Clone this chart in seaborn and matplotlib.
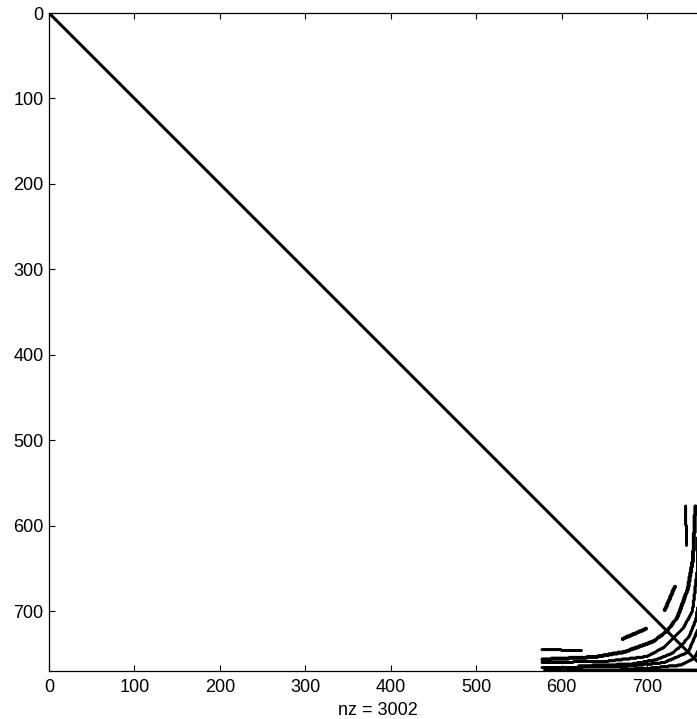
import numpy as np
import pandas as pd
import matplotlib
matplotlib.use("Agg")
import matplotlib.pyplot as plt
import seaborn as sns

# Matrix order and number of stored entries
n = 769
nz_label = "nz = 3002"

# Tick positions on both axes
tick_values = [0, 100, 200, 300, 400, 500, 600, 700]

# Coupling bands in the lower triangle, given as (column, row) vertices and
# a width in rows; the matrix is symmetric, so each band is mirrored above
# the diagonal.
band1a_cols = [577, 623]
band1a_rows = [745, 746]
band1b_cols = [671, 699]
band1b_rows = [732, 720]
band2_cols = [577, 640, 674, 707, 723]
band2_rows = [756, 753, 747, 735, 723]
band3_cols = [577, 650, 700, 720, 731]
band3_rows = [760, 759, 753, 742, 731]
band4_cols = [620, 680, 710, 730, 740]
band4_rows = [764, 762, 757, 749, 740]
band5_cols = [577, 672, 720, 748]
band5_rows = [766, 765, 760, 748]
band6_cols = [670, 700, 740, 755]
band6_rows = [768, 767, 763, 755]
band_widths = [1, 2, 2, 1, 1, 1, 1]
bottom_rows = [769]
bottom_first_col = 580

bands = [
    (band1a_cols, band1a_rows),
    (band1b_cols, band1b_rows),
    (band2_cols, band2_rows),
    (band3_cols, band3_rows),
    (band4_cols, band4_rows),
    (band5_cols, band5_rows),
    (band6_cols, band6_rows),
]


def trace(cols, rows, width):
    """Lattice cells covered by a polyline through the given vertices."""
    cells = set()
    for (c0, r0), (c1, r1) in zip(zip(cols[:-1], rows[:-1]), zip(cols[1:], rows[1:])):
        steps = int(max(abs(c1 - c0), abs(r1 - r0)))
        for k in range(steps + 1):
            t = k / steps if steps else 0.0
            r = int(round(r0 + t * (r1 - r0)))
            c = int(round(c0 + t * (c1 - c0)))
            for w in range(width):
                if r + w <= n and c < r + w:
                    cells.add((r + w, c))
    return cells


entries = set((i, i) for i in range(1, n + 1))
lower = set()
for (cols, rows), width in zip(bands, band_widths):
    lower |= trace(cols, rows, width)
for r in bottom_rows:
    lower |= {(r, c) for c in range(bottom_first_col, r)}
for r, c in lower:
    entries.add((r, c))
    entries.add((c, r))

df = pd.DataFrame(sorted(entries), columns=["row", "col"])

plt.rcParams["font.family"] = ["Liberation Sans", "DejaVu Sans"]

fig = plt.figure(figsize=(6.97, 7.19), dpi=100)
ax = fig.add_axes([49 / 697, 48 / 719, 658 / 697, 658 / 719])

sns.scatterplot(data=df, x="col", y="row", marker="o", s=4.5, color="black",
                linewidth=0, edgecolor="none", legend=False, ax=ax)

ax.set_xlim(0, n + 1)
ax.set_ylim(n + 1, 0)
ax.set_xticks(tick_values)
ax.set_yticks(tick_values)
ax.set_xticklabels([str(v) for v in tick_values])
ax.set_yticklabels([str(v) for v in tick_values])
ax.tick_params(direction="in", length=4.5, width=0.8, top=True, right=True,
               labelsize=13, colors="black")
ax.tick_params(axis="y", pad=4)
ax.tick_params(axis="x", pad=6)
for sp in ax.spines.values():
    sp.set_linewidth(0.9)
    sp.set_color("black")
ax.set_ylabel("")
ax.set_xlabel(nz_label, fontsize=13, labelpad=4)

fig.savefig("out.png", dpi=100, facecolor="white")
